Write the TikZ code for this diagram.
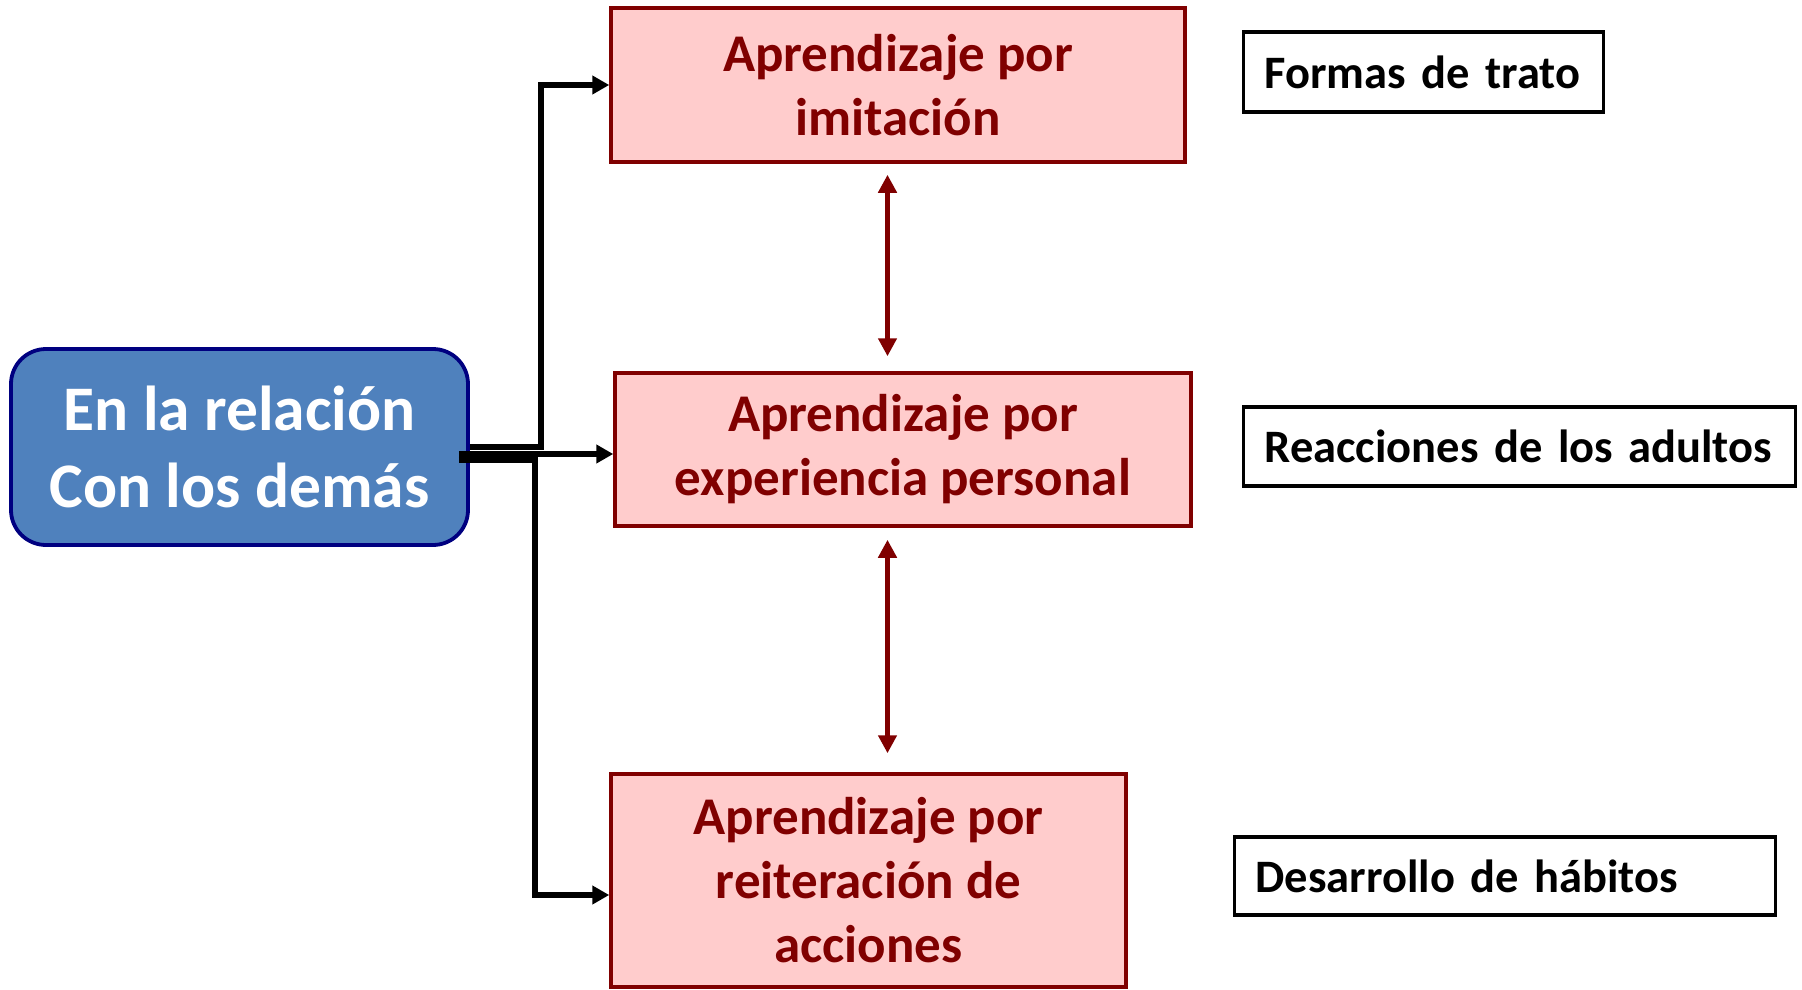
\documentclass[tikz,border=0pt]{standalone}
\usepackage{fontspec}
\setmainfont{Carlito}
\usetikzlibrary{arrows.meta,calc}
\definecolor{mred}{HTML}{800000}
\definecolor{pinkfill}{HTML}{FFCCCC}
\definecolor{bluefill}{HTML}{4F81BD}
\definecolor{navyline}{HTML}{000080}
\begin{document}
\begin{tikzpicture}[x=1pt,y=-1pt,
  learnbox/.style={draw=mred, line width=3.5pt, fill=pinkfill, text=mred,
    font=\bfseries\fontsize{53}{64}\selectfont, align=center, inner sep=0pt},
  bluebox/.style={draw=navyline, line width=3.8pt, fill=bluefill, text=white,
    rounded corners=35pt, font=\bfseries\fontsize{63.5}{77}\selectfont, align=center, inner sep=0pt},
  notebox/.style={draw=black, line width=3.2pt, fill=white,
    font=\bfseries\fontsize{46.5}{57}\selectfont, align=left, inner xsep=21pt, inner ysep=0pt, anchor=west},
  conn/.style={draw=black, line width=6pt, -{Triangle[length=17pt,width=18pt]}},
  redarr/.style={draw=mred, line width=5.5pt, {Triangle[length=18pt,width=18pt]}-{Triangle[length=18pt,width=18pt]}}
]
\useasboundingbox (0,0) rectangle (1802,990);
\fill[white] (0,0) rectangle (1802,990);

\node[learnbox, minimum width=574pt, minimum height=154pt] (box1) at (898,85) {Aprendizaje por\\imitación};
\node[learnbox, minimum width=576pt, minimum height=153pt] (box2) at (903,449.5) {Aprendizaje por\\experiencia personal};
\node[learnbox, minimum width=515pt, minimum height=213pt] (box3) at (868.5,880.5) {Aprendizaje por\\reiteración de\\acciones};
\node[bluebox, minimum width=457pt, minimum height=196pt] (rel) at (239.5,447) {En la relación\\Con los demás};

\node[notebox, text width=318pt, minimum height=80pt] (n1) at (1242,72) {\mbox{Formas de trato}};
\node[notebox, text width=510pt, minimum height=79pt] (n2) at (1242,446.5) {\mbox{Reacciones de los adultos}};
\node[notebox, text width=499pt, minimum height=78pt] (n3) at (1233,876) {\mbox{Desarrollo de hábitos}};

\draw[conn] (rel.east) -- ++(71,0) |- (box1.west);
\coordinate (s2) at ($(rel.east)+(-11,7)$);
\draw[conn] (s2) -- (s2 -| box2.west);
\coordinate (s3) at ($(rel.east)+(-11,12.5)$);
\draw[conn] (s3) -- ++(76,0) |- ($(box3.west)+(0,14.5)$);

\coordinate (ax) at (887.5,0);
\draw[redarr] ($(box1.south -| ax)+(0,11)$) -- ($(box2.north -| ax)+(0,-15)$);
\draw[redarr] ($(box2.south -| ax)+(0,12)$) -- ($(box3.north -| ax)+(0,-19)$);
\end{tikzpicture}
\end{document}
